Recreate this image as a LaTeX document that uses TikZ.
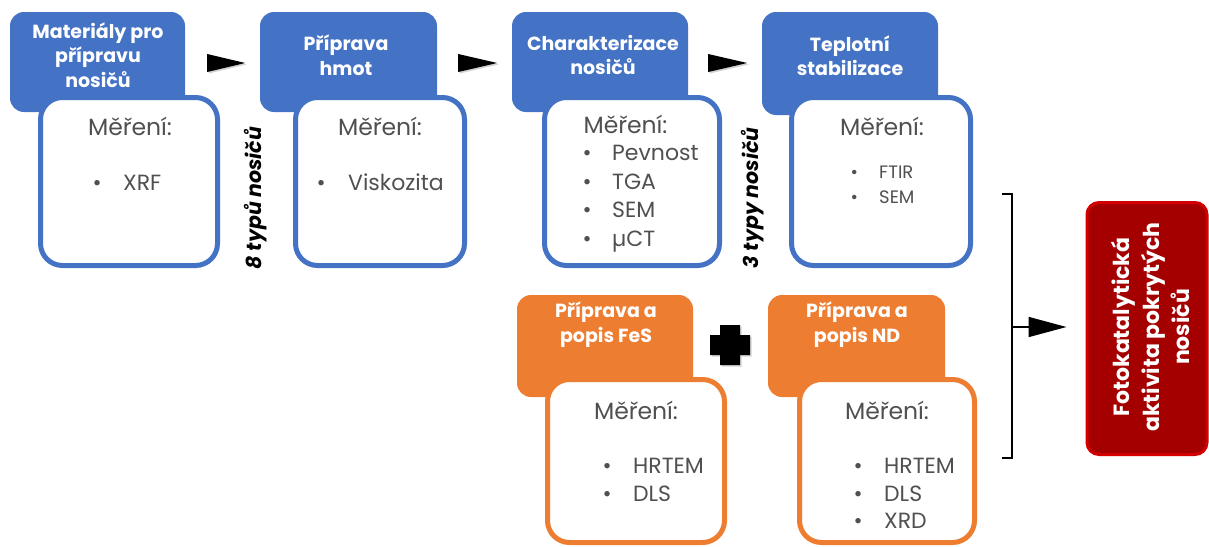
\documentclass[tikz,border=0pt]{standalone}
\usepackage{fontspec}
\setmainfont{Poppins}
\usetikzlibrary{shadows,arrows.meta,calc}
\definecolor{hblue}{HTML}{4472C4}
\definecolor{horange}{HTML}{ED7D31}
\definecolor{tgray}{HTML}{505050}
\definecolor{rfill}{HTML}{A50000}
\definecolor{rline}{HTML}{D40000}
\newlength{\itemgap}
\newcommand{\itm}[1]{\makebox[0pt]{\textbullet}\hspace{\itemgap}#1}
\tikzset{
  head/.style={fill=#1, draw=none, rounded corners=14pt, inner sep=0pt},
  card/.style={fill=white, draw=#1, line width=5pt, rounded corners=22pt, inner sep=0pt},
  htext/.style={text=white, font=\bfseries\fontsize{19}{24.5}\selectfont, align=center, inner sep=0pt},
  mhead/.style={text=tgray, font=\fontsize{23.5}{28}\selectfont, inner sep=0pt, text height=16pt, text depth=0pt},
  mtext/.style={text=tgray, font=\fontsize{22}{28}\selectfont, inner sep=0pt, text height=15.5pt, text depth=0pt},
  stext/.style={text=tgray, font=\fontsize{18}{24}\selectfont, inner sep=0pt, text height=12.5pt, text depth=0pt},
  tri/.style={fill=black, drop shadow={shadow xshift=1.5pt, shadow yshift=-1.5pt, opacity=0.35}},
  vlabel/.style={rotate=90, font=\bfseries\itshape\fontsize{20.5}{24}\selectfont, inner sep=0pt},
}
\begin{document}
\begin{tikzpicture}[x=1pt, y=-1pt]
\useasboundingbox (0,0) rectangle (1209,546);

% ---- blue stages ----
\node[head=hblue, minimum width=175pt, minimum height=100pt] (h1) at (97.5,62) {};
\node[head=hblue, minimum width=177pt, minimum height=100pt] (h2) at (348.5,62) {};
\node[head=hblue, minimum width=176pt, minimum height=100pt] (h3) at (600,62) {};
\node[head=hblue, minimum width=176pt, minimum height=103pt] (h4) at (850,63.5) {};

\node[card=hblue, minimum width=177pt, minimum height=168pt] (c1) at (129,181.5) {};
\node[card=hblue, minimum width=169pt, minimum height=168pt] (c2) at (380,181.5) {};
\node[card=hblue, minimum width=175pt, minimum height=168pt] (c3) at (632,181.5) {};
\node[card=hblue, minimum width=179pt, minimum height=168pt] (c4) at (881,181.5) {};

\node[htext] (t1) at (98,55) {Materiály pro\\přípravu\\nosičů};
\node[htext] (t2) at (346,55) {Příprava\\hmot};
\node[htext] (t3) at (603,55) {Charakterizace\\nosičů};
\node[htext] (t4) at (850,55.5) {Teplotní\\stabilizace};

% ---- orange stages ----
\node[head=horange, minimum width=176pt, minimum height=102pt] (h5) at (605,346) {};
\node[head=horange, minimum width=177pt, minimum height=102pt] (h6) at (856.5,346) {};
\node[card=horange, minimum width=177pt, minimum height=163pt] (c5) at (636,461) {};
\node[card=horange, minimum width=175pt, minimum height=163pt] (c6) at (887,461) {};
\node[htext] (t5) at (606,324.5) {Příprava a\\popis FeS};
\node[htext] (t6) at (857,324.5) {Příprava a\\popis ND};

% ---- measurement lists ----
\node[mhead] (m1) at (130,127) {Měření:};
\node[mhead] (m2) at (380,127) {Měření:};
\node[mhead] (m3) at (625.5,125) {Měření:};
\node[mhead] (m4) at (882,127) {Měření:};
\node[mhead] (m5) at (636,411) {Měření:};
\node[mhead] (m6) at (887,411) {Měření:};

\setlength{\itemgap}{26pt}
\node[mtext, anchor=west] (i1a) at (97,183) {\itm{XRF}};
\setlength{\itemgap}{27pt}
\node[mtext, anchor=west] (i2a) at (321,183) {\itm{Viskozita}};
\setlength{\itemgap}{25pt}
\foreach \t [count=\i] in {Pevnost,TGA,SEM,µCT}
  \node[mtext, anchor=west, name=i3\i] at (587,{153+(\i-1)*28.5}) {\itm{\t}};
\foreach \t [count=\i] in {FTIR,SEM}
  \node[stext, anchor=west, name=i4\i] at (854,{172+(\i-1)*25}) {\itm{\t}};
\setlength{\itemgap}{26pt}
\foreach \t [count=\i] in {HRTEM,DLS}
  \node[mtext, anchor=west, name=i5\i] at (607,{466+(\i-1)*27.5}) {\itm{\t}};
\foreach \t [count=\i] in {HRTEM,DLS,XRD}
  \node[mtext, anchor=west, name=i6\i] at (858,{466+(\i-1)*27.5}) {\itm{\t}};

% ---- counts of carrier types ----
\node[vlabel] (n8) at (256,198) {8 typů nosičů};
\node[vlabel] (n3) at (753,198) {3 typy nosičů};

% ---- arrowheads between stages ----
\fill[tri] ($(h1.east)+(22,-8)$) -- ($(h1.east)+(60,1)$) -- ($(h1.east)+(22,10)$) -- cycle;
\fill[tri] ($(h2.east)+(21,-8)$) -- ($(h2.east)+(60,1)$) -- ($(h2.east)+(21,10)$) -- cycle;
\fill[tri] ($(h3.east)+(20,-8)$) -- ($(h3.east)+(59,1)$) -- ($(h3.east)+(20,10)$) -- cycle;

% ---- plus sign ----
\fill[tri] ($(h5.east)+(17,-11)$) -- ++(10,0) -- ++(0,-10) -- ++(20,0) -- ++(0,10) -- ++(10,0)
  -- ++(0,20) -- ++(-10,0) -- ++(0,10) -- ++(-20,0) -- ++(0,-10) -- ++(-10,0) -- cycle;

% ---- result ----
\node[fill=rfill, draw=rline, line width=3pt, rounded corners=12pt,
      minimum width=120pt, minimum height=252pt, inner sep=0pt] (res) at (1147,328.5) {};
\node[rotate=90, text=white, align=center, inner sep=0pt,
      font=\bfseries\fontsize{22}{30}\selectfont] (rt) at (1150,327) {Fotokatalytická\\aktivita pokrytých\\nosičů};

% ---- bracket joining both branches ----
\coordinate (bt) at (1012,194);
\coordinate (bb) at (1012,458);
\coordinate (bm) at (1012,327);
\draw[line width=1.6pt] ($(bt)+(-10,0)$) -- (bt) -- (bb) -- ($(bb)+(-10,0)$);
\draw[line width=1.6pt, -{Triangle[length=38pt,width=20pt]}, shorten >=19pt] (bm) -- (bm -| res.west);
\end{tikzpicture}
\end{document}
